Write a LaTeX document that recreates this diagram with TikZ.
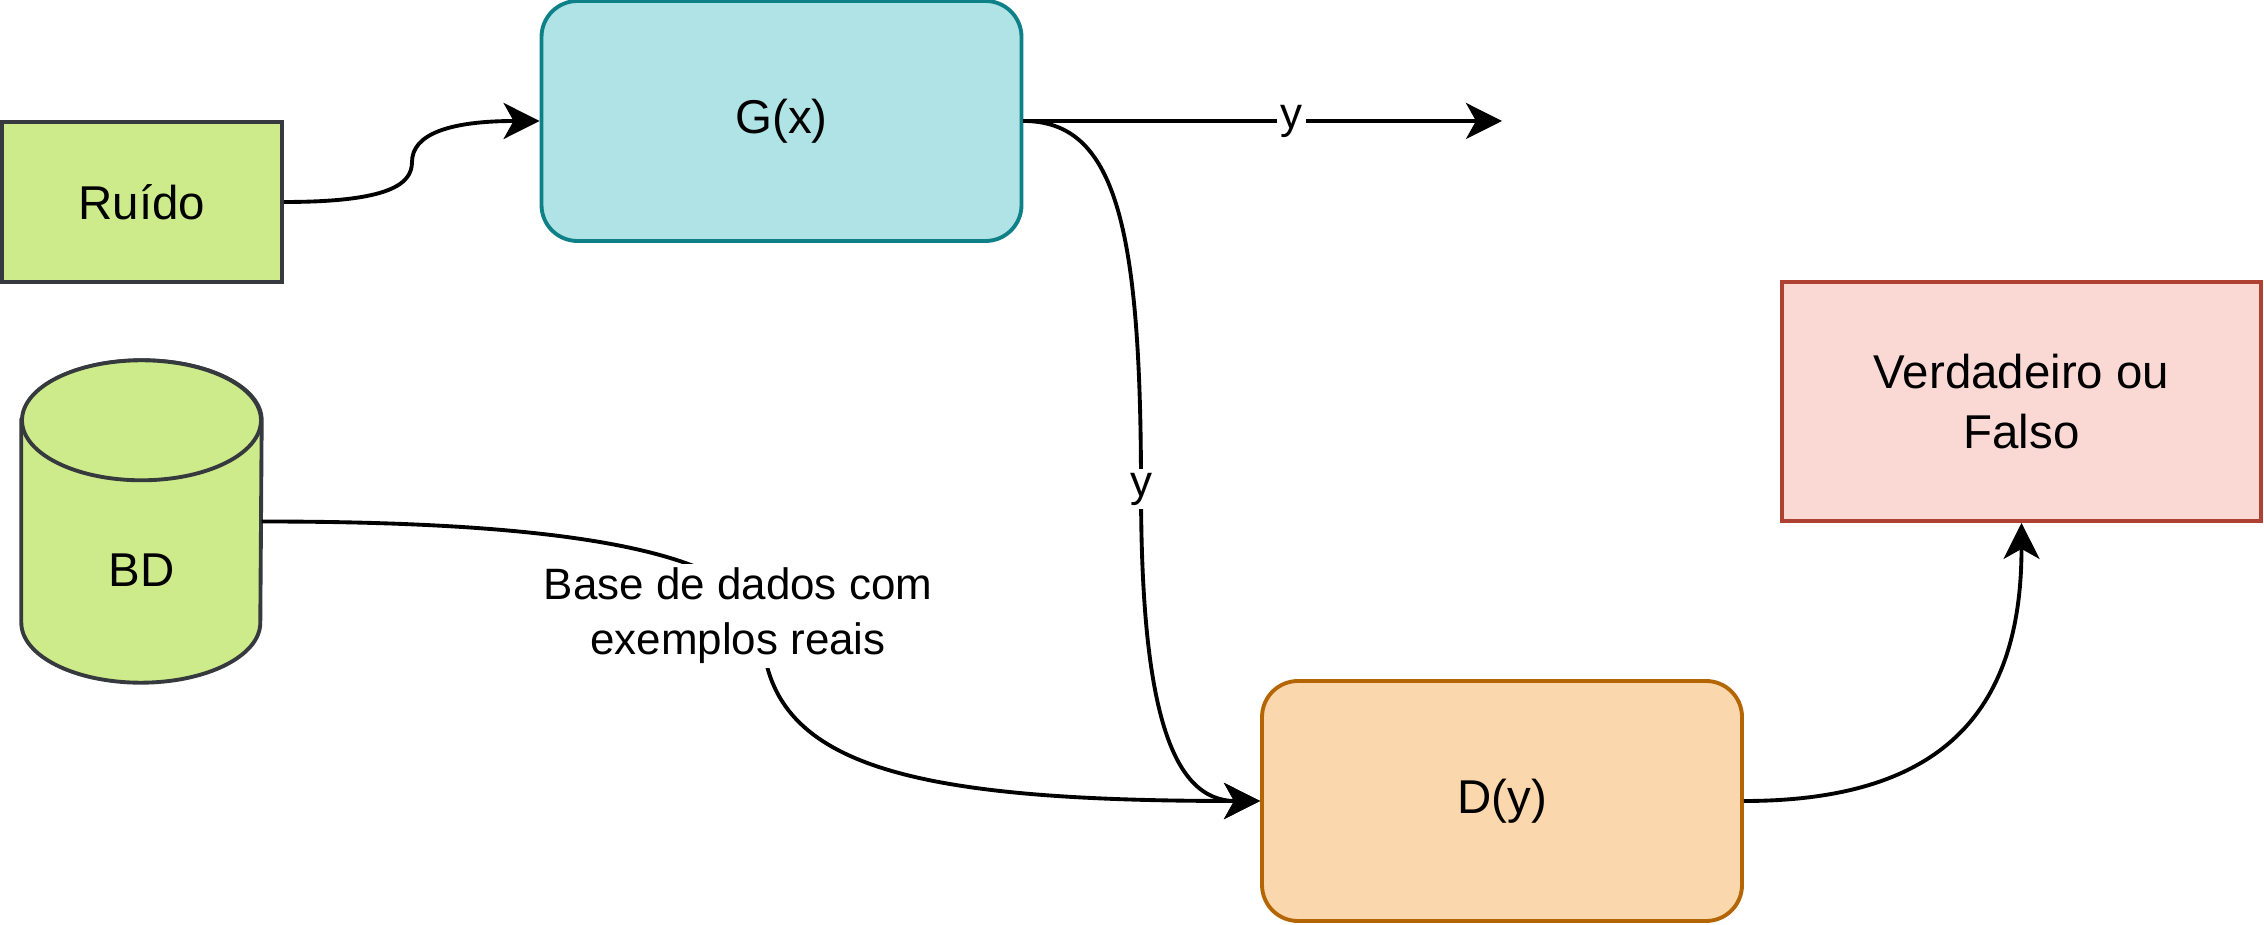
\documentclass[tikz,border=0pt]{standalone}
\usepackage{fontspec}
\setmainfont{Liberation Sans}
\usetikzlibrary{arrows.meta}
\definecolor{verde}{HTML}{CDEB8B}
\definecolor{verdeb}{HTML}{36393D}
\definecolor{azul}{HTML}{B0E3E6}
\definecolor{azulb}{HTML}{0E8088}
\definecolor{laranja}{HTML}{FAD7AC}
\definecolor{laranjab}{HTML}{B46504}
\definecolor{rosa}{HTML}{FAD9D5}
\definecolor{rosab}{HTML}{AE4132}
\begin{document}
\begin{tikzpicture}[>={Stealth[length=3.6mm,width=3.6mm,inset=1mm]},
    font=\fontsize{13.5}{17.3}\selectfont,
    caixa/.style={draw, line width=1.1pt, align=center, inner sep=0pt},
    redonda/.style={caixa, rounded corners=3.6mm, minimum width=4.8cm, minimum height=2.4cm},
    seta/.style={->, line width=1.1pt},
    rot/.style={fill=white, inner sep=1pt, align=center, font=\fontsize{12.5}{15.7}\selectfont}]
\useasboundingbox (0,0) rectangle (22.64,9.24);

\node[caixa, fill=verde, draw=verdeb, minimum width=2.8cm, minimum height=1.6cm] (ruido) at (1.42,7.22) {Ruído};
\node[redonda, fill=azul, draw=azulb] (gx) at (7.815,8.03) {G(x)};
\node[redonda, fill=laranja, draw=laranjab] (dy) at (15.02,1.23) {D(y)};
\node[caixa, fill=rosa, draw=rosab, minimum width=4.79cm, minimum height=2.39cm] (vf) at (20.215,5.225) {Verdadeiro ou\\Falso};

% cilindro BD
\node[minimum width=2.39cm, minimum height=3.21cm, inner sep=0pt] (bd) at (1.415,4.025) {};
\draw[line width=1.1pt, draw=verdeb, fill=verde] ([yshift=-6mm]bd.north west) -- ([yshift=6mm]bd.south west)
    arc[start angle=180, end angle=360, x radius=1.195, y radius=0.6] -- ([yshift=-6mm]bd.north east)
    arc[start angle=0, end angle=180, x radius=1.195, y radius=0.6] -- cycle;
\draw[line width=1.1pt, draw=verdeb, fill=verde] ([yshift=-6mm]bd.north) ellipse[x radius=1.195, y radius=0.6];
\node (bdtxt) at (1.415,3.54) {BD};

\coordinate (saida) at (15.02,8.03);

\draw[seta] (ruido.east) .. controls (3.9,7.22) and (4.12,7.4) .. (4.12,7.62)
    .. controls (4.12,7.9) and (4.5,8.03) .. (gx.west);
\draw[seta] (gx.east) -- node[rot, pos=0.56]{y} (saida);
\draw[seta] (gx.east) .. controls (11.15,8.03) and (11.41,7.0) .. (11.41,4.35) node[rot]{y}
    .. controls (11.41,2.2) and (11.7,1.23) .. (dy.west);
\draw[seta] (bd.east) .. controls (5.0,4.025) and (7.4,3.85) .. (7.62,3.0)
    node[rot, xshift=-2.4mm, yshift=0.8mm]{Base de dados com\\exemplos reais}
    .. controls (7.62,1.6) and (9.0,1.23) .. (dy.west);
\draw[seta] (dy.east) .. controls (19.5,1.23) and (20.215,2.2) .. (vf.south);

\end{tikzpicture}
\end{document}
